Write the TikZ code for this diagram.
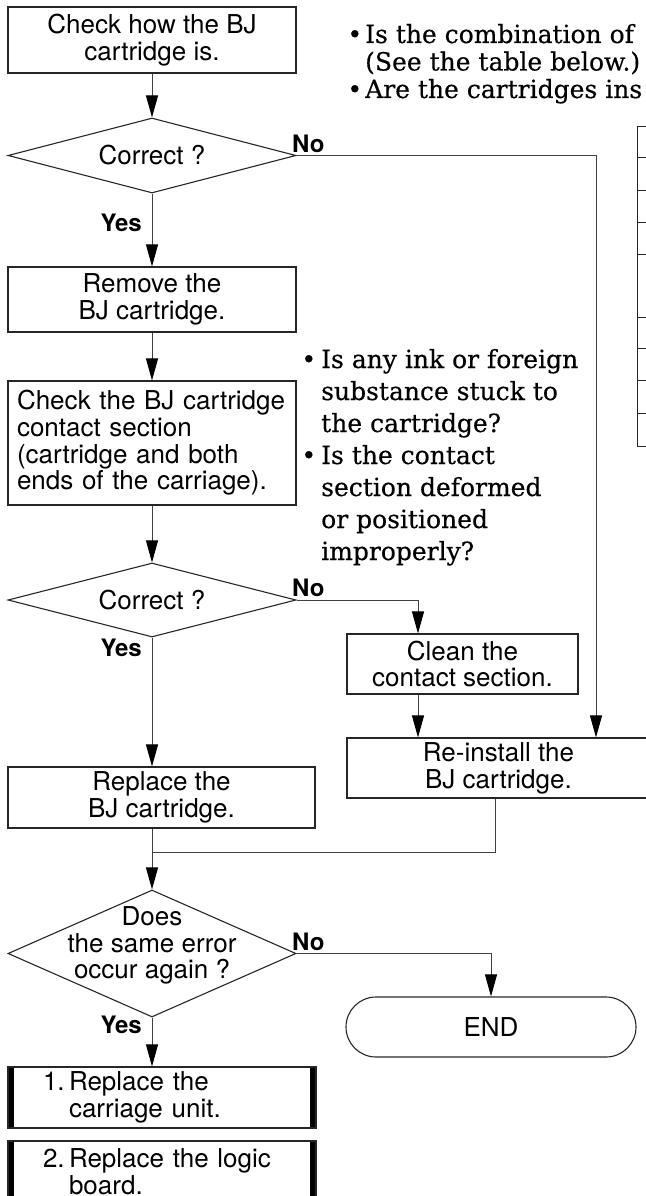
\documentclass[tikz,border=0pt]{standalone}
\usepackage{fontspec}
\setmainfont{TeX Gyre Heros}
\newfontfamily\notefont[FakeBold=0.4]{DejaVu Serif}
\usetikzlibrary{arrows.meta,calc,shapes.geometric}

\begin{document}
\begin{tikzpicture}[x=1pt,y=-1pt]
	\tikzset{box/.style = {draw=black!85, line width=1.1pt, inner sep=0pt, align=center, font=\fontsize{26}{26.7}\selectfont}}
	\tikzset{decision/.style = {diamond, draw=black!85, line width=1.1pt, inner sep=0pt, minimum width=288pt}}
	\tikzset{fixbox/.style = {box, minimum width=308pt, minimum height=61pt, align=left, text width=238pt,
	    path picture={\fill (path picture bounding box.north west) rectangle ([xshift=6pt]path picture bounding box.south west);
	    \fill ([xshift=-6pt]path picture bounding box.north east) rectangle (path picture bounding box.south east);}}}
	\tikzset{lbl/.style = {inner sep=0pt, font=\bfseries\fontsize{24}{24}\selectfont}}
	\tikzset{note/.style = {inner sep=0pt, align=left, font=\notefont\fontsize{25}{27.5}\selectfont}}
	\tikzset{flow/.style = {draw=black!75, line width=1pt, -{Triangle[length=22pt,width=12pt,color=black]}}}
	\tikzset{line/.style = {draw=black!75, line width=1pt}}
	\useasboundingbox (0,0) rectangle (645,1196);

	% boxes
	\node[box, minimum width=288pt, minimum height=66pt] (chk) at (152,40) {Check how the BJ\\cartridge is.};
	\node[decision, minimum height=75pt, label={center:\fontsize{26}{26.7}\selectfont Correct ?}] (d1) at (152,155.5) {};
	\node[box, minimum width=288pt, minimum height=65pt] (rem) at (152,299.5) {Remove the\\BJ cartridge.};
	\node[box, minimum width=288pt, minimum height=124pt, align=left, text width=270pt] (con) at (152,443)
	    {Check the BJ cartridge\\contact section\\(cartridge and both\\ends of the carriage).};
	\node[decision, minimum height=74pt, label={center:\fontsize{26}{26.7}\selectfont Correct ?}] (d2) at (152,600) {};
	\node[box, minimum width=231pt, minimum height=60pt] (cln) at (462.5,664) {Clean the\\contact section.};
	\node[box, minimum width=303pt, minimum height=60pt] (rei) at (498.5,768) {Re-install the\\BJ cartridge.};
	\node[box, minimum width=307pt, minimum height=61pt] (rep) at (161.5,797.5) {Replace the\\BJ cartridge.};
	\coordinate (jn) at (152,852);
	\node[decision, minimum height=127pt, label={[align=center, font=\fontsize{26}{26.7}\selectfont, yshift=8pt]center:Does\\the same error\\occur again ?}] (d3) at (152,953.5) {};
	\node[box, minimum width=290pt, minimum height=60pt, rounded corners=30pt] (end) at (491,1027) {END};
	\node[fixbox] (fix1) at (162,1097.5) {1.\,Replace the\\\phantom{1.\,}carriage unit.};
	\node[fixbox] (fix2) at (162,1171.5) {2.\,Replace the logic\\\phantom{2.\,}board.};

	% answers
	\node[lbl, anchor=base east] (y1) at (142,231) {Yes};
	\node[lbl, anchor=base east] (y2) at (142,656) {Yes};
	\node[lbl, anchor=base east] (y3) at (142,1033) {Yes};
	\node[lbl, anchor=base west] (n1) at (292,152) {No};
	\node[lbl, anchor=base west] (n2) at (292,596) {No};
	\node[lbl, anchor=base west] (n3) at (292,950) {No};

	% notes (base is the last line)
	\node[note, anchor=base west] (q1) at (365,98)
	    {\llap{•\hspace{3pt}}Is the combination of\\(See the table below.)\\\llap{•\hspace{3pt}}Are the cartridges ins};
	\node[note, anchor=base west, font=\notefont\fontsize{25}{32}\selectfont] (q2) at (321,560)
	    {\llap{•\hspace{5pt}}Is any ink or foreign\\substance stuck to\\the cartridge?\\\llap{•\hspace{5pt}}Is the contact\\section deformed\\or positioned\\improperly?};

	% table
	\draw[black!85, line width=0.9pt] (637,126) -- (637,446);
	\foreach \y in {126,157,190,222,254,317,348,380,413,446}
	    \draw[black!85, line width=0.9pt] (637,\y) -- (650,\y);

	% edges
	\draw[flow] (chk) -- (d1);
	\draw[flow] (d1) -- (rem);
	\draw[flow] (rem) -- (con);
	\draw[flow] (con) -- (d2);
	\draw[flow] (d2.south) -- (d2.south |- rep.north);
	\draw[flow] (d1.east) -| ([xshift=97.5pt]rei.north);
	\draw[flow] (d2.east) -| ([xshift=-44.5pt]cln.north);
	\draw[flow] ([xshift=-44.5pt]cln.south) -- ([xshift=-44.5pt]cln.south |- rei.north);
	\draw[line] ([xshift=-3.5pt]rei.south) |- (jn);
	\draw[flow] (rep.south -| d3.north) -- (d3.north);
	\draw[flow] (d3.east) -| (end.north);
	\draw[flow] (d3.south) -- (d3.south |- fix1.north);
\end{tikzpicture}
\end{document}
